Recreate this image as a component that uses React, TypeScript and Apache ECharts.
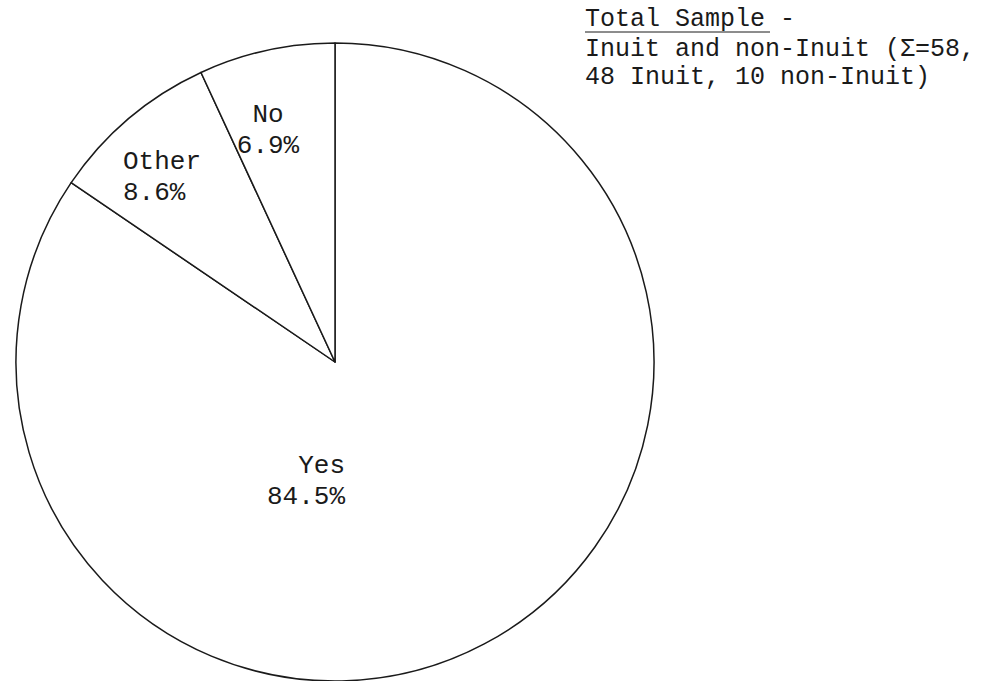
import React, { useEffect, useRef } from "react";
import * as echarts from "echarts";

const categories = ["Yes", "Other", "No"];
const percentages = [84.5, 8.6, 6.9];
const titleLines = ["Total Sample -", "Inuit and non-Inuit (\u03a3=58,", "48 Inuit, 10 non-Inuit)"];

const FONT = '"Liberation Mono", "DejaVu Sans Mono", monospace';
const INK = "#1a1a1a";

// label anchor layout per slice (position, alignment)
const labelAnchors = [
  { x: 345, y: 481, align: "right" },
  { x: 123, y: 177, align: "left" },
  { x: 268, y: 130, align: "center" },
];

export default function App() {
  const ref = useRef<HTMLDivElement>(null);
  useEffect(() => {
    if (!ref.current) return;
    const chart = echarts.init(ref.current, null, { renderer: "svg" });
    chart.setOption({
      animation: false,
      backgroundColor: "#ffffff",
      series: [
        {
          type: "pie",
          center: [335, 362],
          radius: [0, 319],
          startAngle: 90,
          clockwise: true,
          silent: true,
          avoidLabelOverlap: false,
          itemStyle: { color: "#ffffff", borderColor: INK, borderWidth: 1.5 },
          emphasis: { disabled: true },
          labelLine: { show: false },
          label: {
            show: true,
            position: "inside",
            formatter: (p: any) => `${p.name}\n${p.value}%`,
            fontFamily: FONT,
            fontSize: 26,
            lineHeight: 31,
            color: INK,
          },
          labelLayout: (params: any) => {
            const a = labelAnchors[params.dataIndex];
            return { x: a.x, y: a.y, align: a.align, verticalAlign: "middle" };
          },
          data: categories.map((c, i) => ({ name: c, value: percentages[i] })),
        },
      ],
      graphic: [
        {
          type: "text",
          style: { text: titleLines[0], x: 585, y: 19, fill: INK, font: `25px ${FONT}`, textVerticalAlign: "middle" },
        },
        {
          type: "line",
          shape: { x1: 585, y1: 32, x2: 770, y2: 32 },
          style: { stroke: INK, lineWidth: 1 },
        },
        {
          type: "text",
          style: { text: titleLines[1], x: 585, y: 49, fill: INK, font: `25px ${FONT}`, textVerticalAlign: "middle" },
        },
        {
          type: "text",
          style: { text: titleLines[2], x: 585, y: 77, fill: INK, font: `25px ${FONT}`, textVerticalAlign: "middle" },
        },
      ],
    });
    return () => chart.dispose();
  }, []);
  return <div ref={ref} style={{ position: "absolute", left: 0, top: 0, width: 994, height: 681 }} />;
}
